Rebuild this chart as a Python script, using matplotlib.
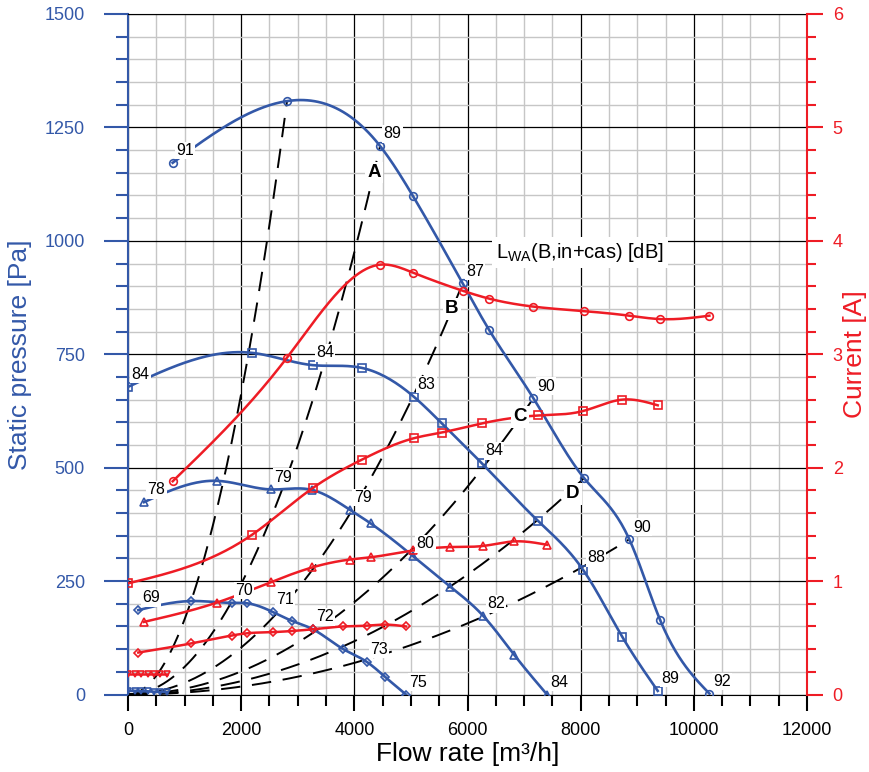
import numpy as np
import matplotlib
matplotlib.use('Agg')
import matplotlib.pyplot as plt
from matplotlib.ticker import MultipleLocator

plt.rcParams['font.family'] = ['Liberation Sans', 'DejaVu Sans']
plt.rcParams['mathtext.fontset'] = 'custom'
plt.rcParams['mathtext.rm'] = 'Liberation Sans'
plt.rcParams['mathtext.it'] = 'Liberation Sans:italic'

BLUE = '#3358a8'
RED = '#ee1c25'

# ---------------- data ----------------
# curve 1 (circles)
circ_q = [790, 2810, 4455, 5035, 5915, 6385, 7165, 8060, 8860, 9405, 10275]
circ_p = [1172, 1308, 1209, 1099, 906, 803, 653, 477, 342, 164, 2]
circ_i = [1.88, 2.97, 3.79, 3.72, 3.56, 3.49, 3.42, 3.38, 3.34, 3.31, 3.34]
circ_lbl = ['91', '', '89', '', '87', '', '90', '', '90', '', '92']

# curve 2 (squares)
sq_q = [0, 2197, 3264, 4130, 5055, 5544, 6251, 7252, 8047, 8736, 9362]
sq_p = [678, 753, 726, 720, 656, 598, 510, 382, 274, 127, 8]
sq_i = [0.98, 1.41, 1.82, 2.07, 2.26, 2.31, 2.39, 2.46, 2.50, 2.60, 2.55]
sq_lbl = ['84', '', '84', '', '83', '', '84', '', '88', '', '89']

# curve 3 (triangles)
tri_q = [283, 1568, 2522, 3252, 3924, 4290, 5037, 5691, 6280, 6828, 7405]
tri_p = [424, 471, 452, 451, 407, 377, 305, 238, 173, 87, 0]
tri_i = [0.64, 0.81, 0.99, 1.12, 1.19, 1.21, 1.27, 1.30, 1.31, 1.35, 1.32]
tri_lbl = ['78', '', '79', '', '79', '', '80', '', '82', '', '84']

# curve 4 (diamonds)
dia_q = [182, 1114, 1833, 2108, 2557, 2904, 3264, 3805, 4219, 4542, 4913]
dia_p = [186, 206, 202, 201, 182, 162, 144, 100, 72, 39, 0]
dia_i = [0.37, 0.45, 0.52, 0.54, 0.55, 0.56, 0.575, 0.60, 0.607, 0.616, 0.60]
dia_lbl = ['69', '', '70', '', '71', '', '72', '', '73', '', '75']

# curve 5 (lowest, down triangles)
low_q = [0, 115, 230, 345, 460, 570, 685]
low_p = [8, 8, 7, 7, 6, 6, 5]
low_i = [0.18, 0.18, 0.18, 0.18, 0.18, 0.18, 0.18]

# system (dashed) curves: end points on top fan curve
sys_q_end = [2810, 4455, 5915, 7165, 8060, 8860]
sys_p_end = [1308, 1209, 906, 653, 477, 342]
sys_letter = ['A', 'B', 'C', 'D']
sys_letter_q = [4350, 5720, 6930, 7860]
sys_letter_p = [1151, 850, 612, 442]

x_ticks = [0, 2000, 4000, 6000, 8000, 10000, 12000]
y_ticks = [0, 250, 500, 750, 1000, 1250, 1500]
y2_ticks = [0, 1, 2, 3, 4, 5, 6]


def natural_spline(x, y, n=300):
    x = np.asarray(x, float)
    y = np.asarray(y, float)
    m = len(x)
    h = np.diff(x)
    A = np.zeros((m, m))
    b = np.zeros(m)
    A[0, 0] = 1
    A[-1, -1] = 1
    for i in range(1, m - 1):
        A[i, i - 1] = h[i - 1]
        A[i, i] = 2 * (h[i - 1] + h[i])
        A[i, i + 1] = h[i]
        b[i] = 6 * ((y[i + 1] - y[i]) / h[i] - (y[i] - y[i - 1]) / h[i - 1])
    M = np.linalg.solve(A, b)
    xs = np.linspace(x[0], x[-1], n)
    idx = np.clip(np.searchsorted(x, xs) - 1, 0, m - 2)
    x0, x1 = x[idx], x[idx + 1]
    hh = x1 - x0
    t0 = x1 - xs
    t1 = xs - x0
    ys = (M[idx] * t0 ** 3 / (6 * hh) + M[idx + 1] * t1 ** 3 / (6 * hh)
          + (y[idx] / hh - M[idx] * hh / 6) * t0
          + (y[idx + 1] / hh - M[idx + 1] * hh / 6) * t1)
    return xs, ys


fig = plt.figure(figsize=(8.69, 7.72), dpi=100)
ax = fig.add_axes([128 / 869, 1 - 694.5 / 772, 679 / 869, 680.5 / 772])
ax2 = ax.twinx()

ax.set_xlim(0, 12000)
ax.set_ylim(0, 1500)
ax2.set_ylim(0, 6)

ax.set_xticks(x_ticks)
ax.set_yticks(y_ticks)
ax2.set_yticks(y2_ticks)
ax.xaxis.set_minor_locator(MultipleLocator(500))
ax.yaxis.set_minor_locator(MultipleLocator(50))
ax2.yaxis.set_minor_locator(MultipleLocator(0.2))

ax.set_axisbelow(True)
ax.grid(which='minor', color='#c6c6c6', lw=1.0)
ax.grid(which='major', color='black', lw=0.9)

ax.tick_params(axis='y', which='major', direction='out', length=17, width=1.5,
               color=BLUE, labelcolor=BLUE, pad=14, labelsize=13)
ax.tick_params(axis='y', which='minor', direction='out', length=9, width=1.5, color=BLUE)
ax.tick_params(axis='x', which='major', direction='out', length=11.5, width=1.5,
               color='black', pad=8.5, labelsize=13)
ax.tick_params(axis='x', which='minor', direction='out', length=8, width=1.5, color='black')
ax2.tick_params(axis='y', which='major', direction='out', length=11.5, width=1.5,
                color=RED, labelcolor=RED, pad=7, labelsize=13)
ax2.tick_params(axis='y', which='minor', direction='out', length=6.5, width=1.5, color=RED)

ax.spines['left'].set_color(BLUE)
ax.spines['left'].set_linewidth(1.5)
ax.spines['right'].set_visible(False)
ax.spines['bottom'].set_color('black')
ax.spines['top'].set_color('black')
for s in ['left', 'top', 'bottom']:
    ax2.spines[s].set_visible(False)
ax2.spines['right'].set_color(RED)
ax2.spines['right'].set_linewidth(1.5)

ax.set_xlabel('Flow rate [m³/h]', fontsize=19)
ax.xaxis.set_label_coords(0.5, -0.0875)
ax.xaxis.label.set_va('center')
ax.set_ylabel('Static pressure [Pa]', fontsize=19, color=BLUE, va='center')
ax.yaxis.set_label_coords(-0.159, 0.5)
ax2.set_ylabel('Current [A]', fontsize=19, color=RED, va='center', rotation=90)
ax2.yaxis.set_label_coords(1.071, 0.5)

# dashed system curves
for qe, pe in zip(sys_q_end, sys_p_end):
    k = pe / qe ** 2
    q = np.linspace(0, qe, 300)
    ax.plot(q, k * q ** 2, color='black', lw=1.4, dashes=(10, 6), zorder=2)

# fan pressure curves (blue)
blue_sets = [(circ_q, circ_p, 'o', 5.5), (sq_q, sq_p, 's', 5.5),
             (tri_q, tri_p, '^', 5.5), (dia_q, dia_p, 'D', 4.2)]
for q, p, mk, ms in blue_sets:
    xs, ys = natural_spline(q, p)
    ax.plot(xs, ys, color=BLUE, lw=1.9, zorder=3)
    ax.plot(q, p, ls='none', marker=mk, ms=ms, mfc='none', mec=BLUE, mew=1.2, zorder=4)
ax.plot(low_q, low_p, color=BLUE, lw=1.9, marker='v', ms=5, mfc='none', mec=BLUE,
        mew=1.2, zorder=4)

# current curves (red)
red_sets = [(circ_q, circ_i, 'o', 5.5), (sq_q, sq_i, 's', 5.5),
            (tri_q, tri_i, '^', 5.5), (dia_q, dia_i, 'D', 4.2)]
for q, c, mk, ms in red_sets:
    xs, ys = natural_spline(q, c)
    ax2.plot(xs, ys, color=RED, lw=1.8, zorder=3)
    ax2.plot(q, c, ls='none', marker=mk, ms=ms, mfc='none', mec=RED, mew=1.2, zorder=4)
ax2.plot(low_q, low_i, color=RED, lw=1.8, marker='v', ms=5, mfc='none', mec=RED,
         mew=1.2, zorder=4)

# sound level labels
box = dict(boxstyle='square,pad=0.08', fc='white', ec='none')
for q, p, lbls in [(circ_q, circ_p, circ_lbl), (sq_q, sq_p, sq_lbl),
                   (tri_q, tri_p, tri_lbl), (dia_q, dia_p, dia_lbl)]:
    for qq, pp, t in zip(q, p, lbls):
        if t:
            ax2.annotate(t, xy=(qq, pp), xycoords=ax.transData, xytext=(9, 8.8),
                         textcoords='offset points', ha='center', va='center',
                         fontsize=11.5, bbox=box, zorder=6)

for t, qq, pp in zip(sys_letter, sys_letter_q, sys_letter_p):
    ax2.annotate(t, xy=(qq, pp), xycoords=ax.transData, ha='center', va='center',
                 fontsize=13.5, fontweight='bold',
                 bbox=dict(boxstyle='square,pad=0.12', fc='white', ec='none'), zorder=6)

ax2.annotate(r'L$_{\mathrm{WA}}$(B,in+cas) [dB]', xy=(7990, 975), xycoords=ax.transData,
             ha='center', va='center', fontsize=14.5,
             bbox=dict(boxstyle='square,pad=0.2', fc='white', ec='none'), zorder=6)

fig.savefig('out.png', dpi=100)
